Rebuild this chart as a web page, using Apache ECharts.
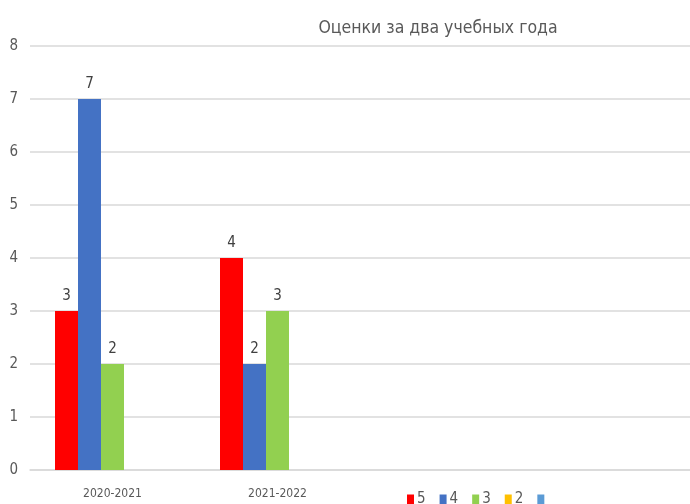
<!DOCTYPE html>
<html>
<head>
<meta charset="utf-8">
<script src="https://cdn.jsdelivr.net/npm/echarts@6/dist/echarts.min.js"></script>
<style>
  html, body { margin: 0; padding: 0; background: #fff; }
  #chart { width: 690px; height: 504px; }
</style>
</head>
<body>
<div id="chart"></div>
<script>
const years = ['2020-2021', '2021-2022', '', '']
const grade5 = [3, 4]
const grade4 = [7, 2]
const grade3 = [2, 3]
const grade2 = [null, null]
const gradeEmpty = [null, null]
const seriesNames = ['5', '4', '3', '2', ' ']
const seriesColors = ['#FF0000', '#4472C4', '#92D050', '#FFC000', '#5B9BD5']
const yTicks = [0, 1, 2, 3, 4, 5, 6, 7, 8]

const font = '"DejaVu Sans Condensed", "Liberation Sans Narrow", "Noto Sans", sans-serif'

const chart = echarts.init(document.getElementById('chart'))

const makeSeries = (name, data, color) => ({
  name: name,
  type: 'bar',
  data: data,
  barWidth: 23,
  barGap: '0%',
  itemStyle: { color: color },
  label: {
    show: true,
    position: 'top',
    distance: 7,
    color: '#404040',
    fontSize: 15,
    fontFamily: font,
  },
})

const option = {
  animation: false,
  title: {
    text: 'Оценки за два учебных года',
    left: 433,
    top: 14,
    textAlign: 'center',
    textStyle: {
      color: '#595959',
      fontSize: 17.5,
      fontWeight: 'normal',
      fontFamily: font,
    },
  },
  legend: {
    data: seriesNames,
    left: 402,
    top: 487,
    itemWidth: 7,
    itemHeight: 10,
    itemGap: 14,
    icon: 'rect',
    textStyle: { color: '#595959', fontSize: 15, fontFamily: font, padding: [0, 0, 0, -2] },
  },
  grid: { left: 30, top: 46, width: 668, height: 424 },
  xAxis: {
    type: 'category',
    data: years,
    axisLine: { show: true, lineStyle: { color: '#D9D9D9', width: 1.5 } },
    axisTick: { show: false },
    axisLabel: {
      color: '#595959',
      fontSize: 12,
      fontFamily: font,
      margin: 18,
    },
  },
  yAxis: {
    type: 'value',
    min: yTicks[0],
    max: yTicks[yTicks.length - 1],
    interval: 1,
    axisLine: { show: false },
    axisTick: { show: false },
    axisLabel: {
      color: '#595959',
      fontSize: 15,
      fontFamily: font,
      margin: 12,
    },
    splitLine: { lineStyle: { color: '#D9D9D9', width: 1.5 } },
  },
  series: [
    makeSeries(seriesNames[0], grade5, seriesColors[0]),
    makeSeries(seriesNames[1], grade4, seriesColors[1]),
    makeSeries(seriesNames[2], grade3, seriesColors[2]),
    makeSeries(seriesNames[3], grade2, seriesColors[3]),
    makeSeries(seriesNames[4], gradeEmpty, seriesColors[4]),
  ],
}

chart.setOption(option)
</script>
</body>
</html>
